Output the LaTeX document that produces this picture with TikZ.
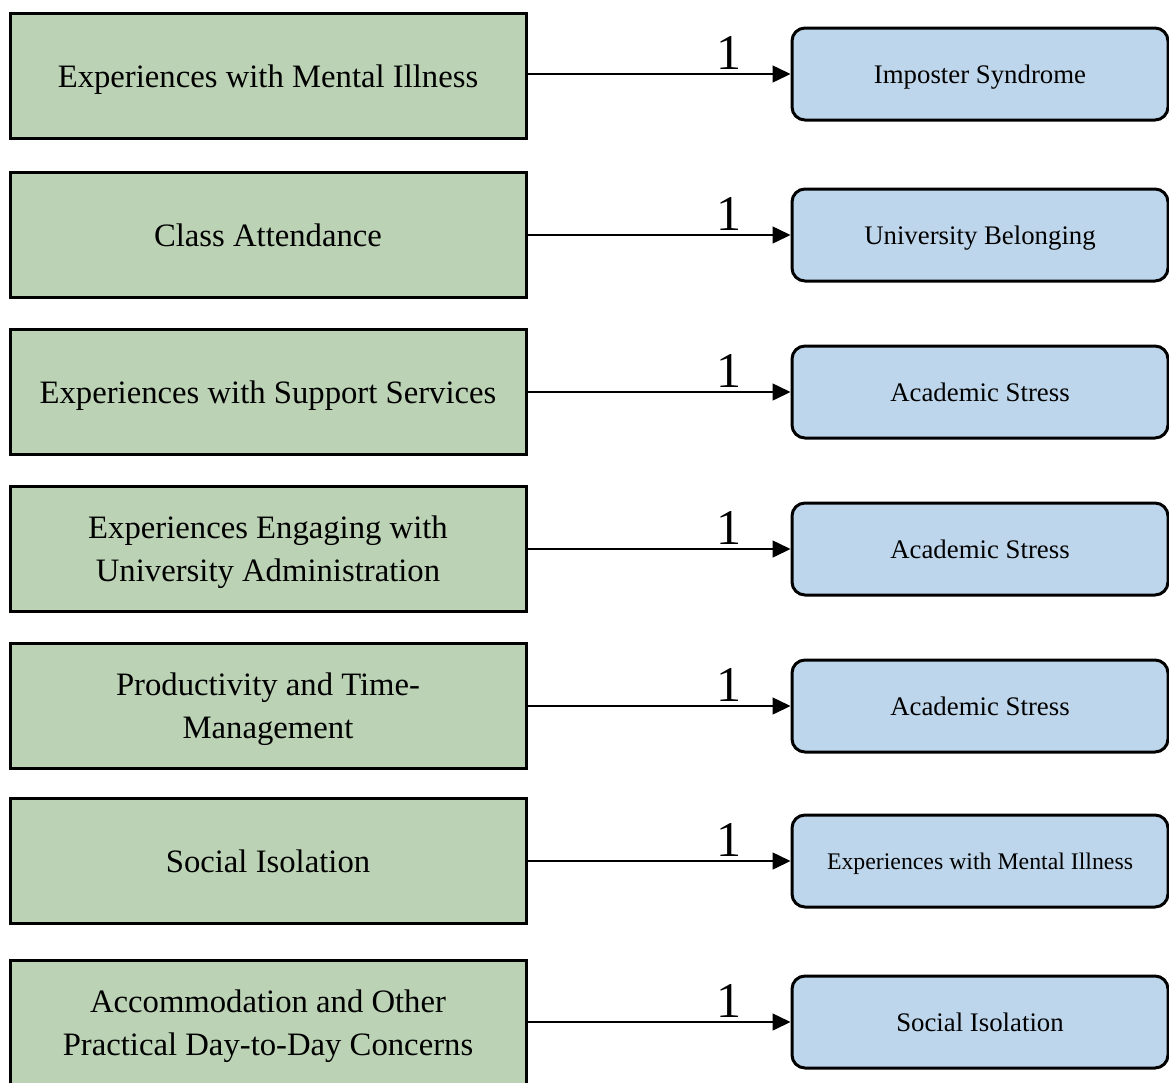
\documentclass[tikz,border=0pt]{standalone}
\usepackage{fontspec}
\setmainfont{Liberation Serif}
\usetikzlibrary{arrows.meta}
\definecolor{gfill}{RGB}{187,210,181}
\definecolor{bfill}{RGB}{190,214,235}
\tikzset{
  gbox/.style={draw=black, line width=3pt, fill=gfill, minimum width=516pt, minimum height=125pt,
    inner sep=0pt, align=center, text depth=0pt, font=\fontsize{32.7}{43}\selectfont},
  bbox/.style={draw=black, line width=3pt, fill=bfill, rounded corners=13pt, minimum width=376pt,
    minimum height=92pt, inner sep=0pt, align=center, text depth=0pt, font=\fontsize{26.8}{32}\selectfont},
  conn/.style={line width=1.5pt, -{Triangle[length=18pt,width=17pt]}},
  lab/.style={font=\fontsize{50}{50}\selectfont, inner sep=1pt, pos=0.765, anchor=south, yshift=3pt}
}
\begin{document}
\begin{tikzpicture}[x=1pt,y=-1pt]
\useasboundingbox (0,0) rectangle (1169,1082);
\clip (0,0) rectangle (1169,1082);
\node[gbox] (g1) at (268,76) {Experiences with Mental Illness};
\node[gbox] (g2) at (268,235) {Class Attendance};
\node[gbox] (g3) at (268,392) {Experiences with Support Services};
\node[gbox] (g4) at (268,549) {Experiences Engaging with\\University Administration};
\node[gbox] (g5) at (268,706) {Productivity and Time-\\Management};
\node[gbox] (g6) at (268,861) {Social Isolation};
\node[gbox] (g7) at (268,1023) {Accommodation and Other\\Practical Day-to-Day Concerns};
\node[bbox] (b1) at (980,74) {Imposter Syndrome};
\node[bbox] (b2) at (980,235) {University Belonging};
\node[bbox] (b3) at (980,392) {Academic Stress};
\node[bbox] (b4) at (980,549) {Academic Stress};
\node[bbox] (b5) at (980,706) {Academic Stress};
\node[bbox] (b6) at (980,861) {\fontsize{23.8}{28}\selectfont Experiences with Mental Illness};
\node[bbox] (b7) at (980,1022) {Social Isolation};
\foreach \i in {1,...,7}{
  \draw[conn] (g\i.east |- b\i.west) -- (b\i.west) node[lab] {1};
}
\end{tikzpicture}
\end{document}
